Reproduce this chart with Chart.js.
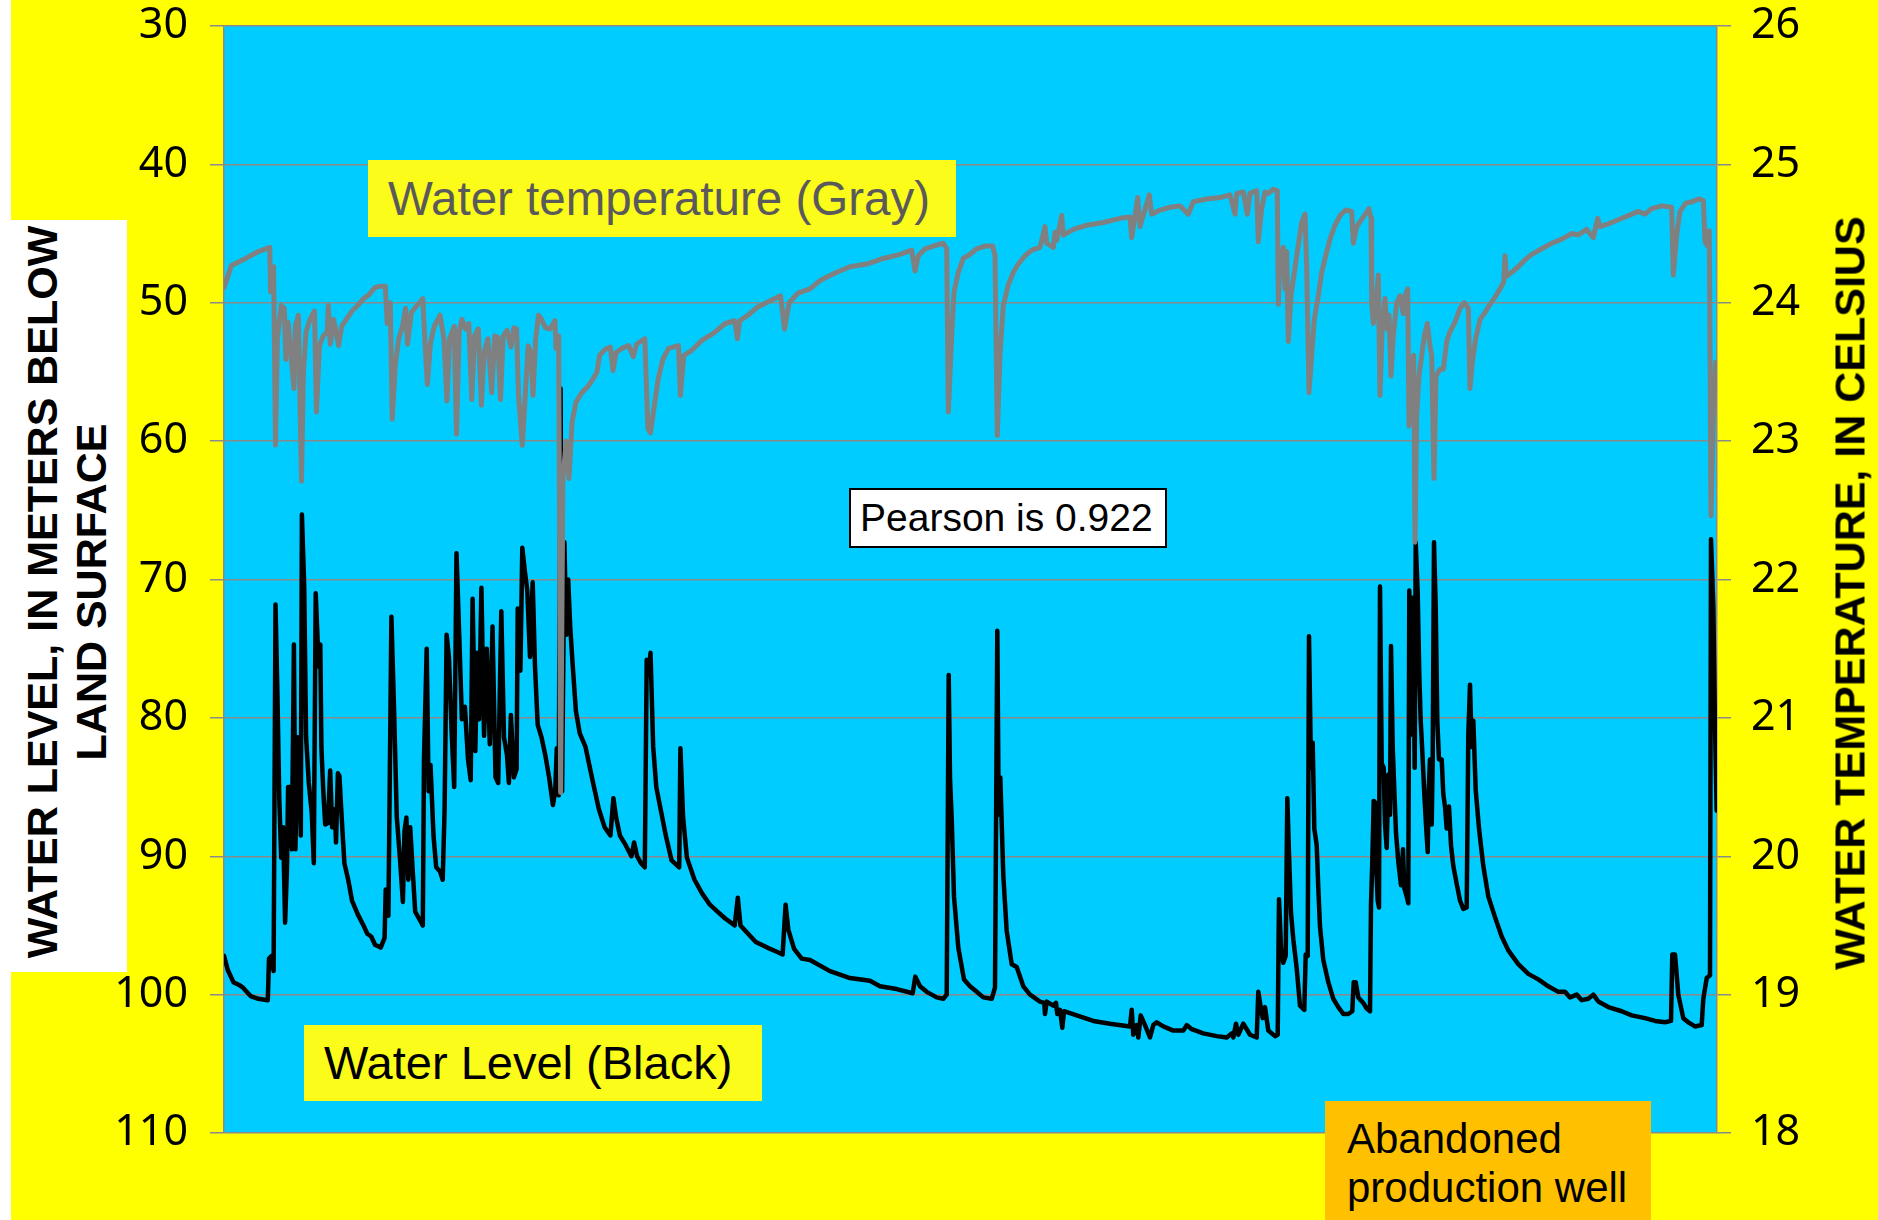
<!DOCTYPE html>
<html>
<head>
<meta charset="utf-8">
<script src="https://cdn.jsdelivr.net/npm/chart.js@4.4.1/dist/chart.umd.min.js"></script>
<style>
  html, body { margin: 0; padding: 0; background: #ffff00; }
  #wrap { position: relative; width: 1878px; height: 1220px; overflow: hidden; background: #ffff00; }
  #chart { position: absolute; left: 0; top: 0; z-index: 1; }
  .box { position: absolute; z-index: 2; box-sizing: border-box; white-space: nowrap; font-family: "Liberation Sans", Arial, sans-serif; }
  .vtitle { position: absolute; z-index: 2; white-space: nowrap; text-align: center; font-family: "Liberation Sans", Arial, sans-serif;
            font-weight: bold; font-size: 43px; line-height: 49px; color: #000; transform: translate(-50%, -50%) rotate(-90deg); }
</style>
</head>
<body>
<div id="wrap">
  <div class="box" style="left:0;top:0;width:11px;height:1220px;background:#fff;"></div>
  <div class="box" style="left:11px;top:220px;width:116px;height:752px;background:#fff;"></div>
  <div class="vtitle" style="left:67px;top:592px;">WATER LEVEL, IN METERS BELOW<br>LAND SURFACE</div>
  <div class="vtitle" style="left:1850px;top:593px;">WATER TEMPERATURE, IN CELSIUS</div>

  <canvas id="chart" width="1878" height="1220"></canvas>

  <div class="box" style="left:368px;top:160px;width:588px;height:77px;background:#fcfc1a;color:#5a5a5a;font-size:47.5px;line-height:77px;padding-left:20px;">Water temperature (Gray)</div>
  <div class="box" style="left:849px;top:488px;width:318px;height:60px;background:#fff;border:2px solid #000;color:#000;font-size:39px;line-height:56px;padding-left:9px;">Pearson is 0.922</div>
  <div class="box" style="left:304px;top:1025px;width:458px;height:76px;background:#fcfc1a;color:#000;font-size:47px;line-height:76px;padding-left:20px;">Water Level (Black)</div>
  <div class="box" style="left:1325px;top:1101px;width:326px;height:130px;background:#ffc000;color:#000;font-size:42px;line-height:49px;padding:13px 0 0 22px;">Abandoned<br>production well</div>
</div>

<script>
// axis ranges / ticks
const levelTicks = { min: 30, max: 110, step: 10 };   // meters below land surface (reversed)
const tempTicks = { min: 18, max: 26, step: 1 };      // degrees C
const dayRange = [0, 1493];

// [day, temperature C]
const tempReadings = [
  [0,24.11],[7.5,24.27],[19,24.31],[34.3,24.37],[45.8,24.40],[46.5,24.08],[49.6,24.26],[51.5,22.97],[53.4,23.74],[57.2,23.98],
  [60.3,23.96],[61.8,23.59],[64.1,23.86],[66.8,23.64],[69.9,23.38],[71.4,23.83],[74.4,23.91],[77.5,22.71],[79.4,23.50],[82.1,23.79],
  [85.9,23.88],[90.5,23.94],[92.4,23.21],[95.5,23.69],[99.3,23.76],[103.2,23.79],[104.3,23.98],[106.2,23.70],[109.7,23.88],[114.6,23.69],
  [117.7,23.83],[122.3,23.88],[128,23.94],[133.8,23.98],[139.5,24.03],[145.3,24.06],[151,24.11],[156.7,24.12],[161.3,24.12],[163.2,23.85],
  [166.3,24.00],[168.2,23.16],[171.3,23.55],[174.7,23.74],[178.5,23.83],[181.6,23.96],[183.5,23.70],[187.4,23.93],[193.1,23.98],[198.8,24.03],
  [201.1,23.69],[203.4,23.41],[206.5,23.71],[210.3,23.83],[216.1,23.91],[219.9,23.74],[222.9,23.29],[225.6,23.74],[230.2,23.83],[232.5,23.05],
  [235.2,23.79],[237.9,23.88],[241.7,23.81],[244.8,23.85],[247.8,23.30],[250.5,23.76],[254.3,23.81],[257.4,23.26],[260.1,23.64],[263.9,23.74],
  [267.7,23.35],[270.8,23.76],[273.8,23.75],[276.5,23.30],[279.2,23.76],[283,23.80],[286.9,23.68],[289.9,23.82],[292.6,23.81],[294.5,23.33],
  [298.3,22.97],[301,23.30],[304.1,23.69],[306.8,23.64],[309,23.33],[311.7,23.74],[314.4,23.91],[317.5,23.88],[321.3,23.82],[325.9,23.81],
  [330.9,23.87],[332,23.67],[334.7,23.76],[336.6,20.46],[338.9,22.73],[342.3,23.00],[345,22.73],[348.1,23.14],[351.9,23.28],[357.7,23.35],
  [363.4,23.39],[369.1,23.45],[373,23.50],[375.6,23.62],[380.6,23.66],[386.3,23.68],[389,23.51],[392.1,23.64],[397.8,23.67],[404.7,23.69],
  [409.3,23.61],[412.4,23.70],[420.8,23.74],[423.9,23.09],[426.5,23.06],[430.4,23.26],[434.2,23.45],[438.8,23.59],[444.5,23.67],[454.5,23.69],
  [456.4,23.33],[459.8,23.62],[466.7,23.65],[478.2,23.73],[489.7,23.78],[501.2,23.85],[510.7,23.87],[513.4,23.74],[515.7,23.87],[524.1,23.91],
  [533.7,23.97],[545.2,24.01],[556.6,24.05],[560.5,23.81],[565.1,24.00],[573.9,24.07],
  [586,24.10],[596,24.16],[612.7,24.22],[626,24.26],[642.7,24.28],[659.3,24.32],[676,24.35],[687.7,24.38],[691,24.23],[694.3,24.34],
  [701,24.39],[709.3,24.41],[719.3,24.43],[722.7,24.39],[724.3,23.21],[727.7,23.76],[730,24.08],[734.3,24.22],[739.3,24.32],[746,24.35],
  [752.7,24.39],[761,24.41],[768.7,24.41],[771,24.34],[773.3,23.04],[776,23.62],[779.3,23.98],[784.3,24.13],[789.3,24.22],[794.3,24.28],
  [801,24.34],[807.7,24.38],[816,24.40],[821,24.55],[822.7,24.43],[829.3,24.40],[831,24.51],[832.7,24.45],[837.7,24.63],[839.3,24.49],
  [849.3,24.53],[862.7,24.56],[879.3,24.58],[896,24.61],[906,24.62],[907.7,24.47],[911,24.63],[913.7,24.76],[916,24.55],[919.3,24.63],
  [925.3,24.78],[927.7,24.64],[936,24.67],[946,24.69],[956,24.70],[964.3,24.64],[969.3,24.73],[982.7,24.75],[996,24.76],[1006,24.78],
  [1011,24.64],[1012.7,24.79],[1019.3,24.80],[1023.3,24.64],[1026,24.79],[1032.7,24.81],[1034.3,24.44],[1037.7,24.68],[1041,24.80],
  [1044.3,24.79],[1049.3,24.82],[1053.3,24.81],[1054.3,23.99],[1056,24.32],[1059.3,24.40],[1061,24.10],[1062.7,24.37],[1064.3,23.72],[1067,24.05],
  [1070.3,24.22],[1073.7,24.39],[1077.7,24.58],[1081,24.64],[1082.7,24.25],[1085,23.35],[1087.7,23.62],[1090.3,23.88],[1094.3,24.05],[1097.7,24.22],
  [1101.7,24.34],[1106,24.46],[1111,24.56],[1116,24.63],[1121.7,24.67],[1127.7,24.66],[1129.3,24.43],[1132.7,24.55],[1138.3,24.61],[1145,24.68],
  [1147,24.61],[1147.7,24.00],[1149.3,23.85],[1151.7,23.98],[1154.3,24.20],[1156,23.33],[1158.3,23.84],[1161,24.03],[1163,23.81],[1165,23.91],
  [1167,23.47],[1169.3,23.76],[1172.7,24.00],[1176,24.05],[1179.3,23.92],[1181,24.05],[1183.7,24.10],[1185,23.11],[1187.7,23.57],[1189.7,23.62],
  [1191,22.27],[1192.7,23.19],[1195,23.47],[1197.7,23.62],[1200.3,23.76],[1203.3,23.85],[1206,23.69],[1207.7,23.62],[1210,22.73],[1212,23.47],
  [1216,23.52],[1219.3,23.52],[1222.7,23.72],[1226,23.79],[1231,23.86],[1236,23.96],[1240.3,24.00],[1244.3,23.96],[1246,23.38],[1248.3,23.57],
  [1251.7,23.74],[1256,23.88],[1261,23.93],[1266,23.99],[1271,24.04],[1276,24.10],[1279.7,24.15],[1281,24.34],[1282.3,24.19],[1287.7,24.22],
  [1294.3,24.26],[1301,24.31],[1307.7,24.35],[1317.7,24.39],[1327.7,24.43],[1337.7,24.46],[1347.7,24.50],[1354.3,24.49],[1362.7,24.53],[1369.3,24.47],
  [1373.7,24.61],[1376,24.55],[1384.3,24.57],[1394.3,24.60],[1404.3,24.63],[1414.3,24.66],[1421,24.64],[1427.7,24.68],[1437.7,24.70],[1447.7,24.69],
  [1449.3,24.20],[1452.7,24.49],[1456,24.66],[1461.7,24.72],[1468.3,24.73],[1474.3,24.75],[1479.3,24.74],[1481,24.44],[1483.7,24.41],[1485.3,24.52],
  [1487,22.46],[1489.3,23.19],[1491.7,23.57]
];

// [day, water level m below land surface]
const levelReadings = [
  [0,97.2],[3.7,98.2],[9.4,99.1],[15.1,99.3],[19,99.5],[26.6,100.1],[34.3,100.3],[43.8,100.4],[45,97.4],[47.7,97.2],
  [49.6,98.3],[51.5,71.8],[53.4,78.2],[55.3,85.9],[57.2,90.1],[59.1,87.9],[61.1,94.8],[63,90.8],[64.1,85.0],[66,85.0],
  [67.9,89.5],[69.9,74.7],[71.4,89.5],[73.7,81.4],[75.6,83.4],[76.8,88.5],[77.9,65.3],[80.2,70.5],[82.1,81.4],[84.8,84.7],
  [87.8,86.9],[89.8,90.5],[91.7,71.0],[94.7,76.3],[96.3,74.7],[97.4,82.1],[99.3,85.3],[101.2,87.7],[103.9,87.6],[106.2,83.8],
  [108.1,87.9],[110.8,86.6],[112,89.0],[113.9,84.0],[115.4,84.2],[117.7,87.2],[120.4,90.5],[124.2,91.7],[128,93.2],[133.8,94.2],
  [139.5,95.0],[143.3,95.6],[147.2,95.8],[151,96.4],[156.7,96.6],[160.6,95.9],[161.7,92.4],[164.4,94.3],[167.4,72.7],[170.1,79.5],
  [172.8,87.2],[175.9,90.1],[178.9,93.3],[180.5,88.2],[182.4,87.2],[184.3,91.7],[186.2,87.9],[188.5,90.8],[191.2,94.0],[195,94.5],
  [198.8,95.0],[200,82.9],[202.7,75.0],[204.6,85.3],[206.5,83.4],[209.5,88.5],[212.2,90.8],[216.1,91.1],[218.7,91.7],[220.6,86.6],
  [222.6,74.0],[224.9,75.6],[227.5,80.8],[230.2,85.0],[232.5,68.1],[235.2,74.0],[237.9,80.1],[240.9,79.2],[244,83.0],[246.7,84.5],
  [248.6,71.4],[251.3,82.4],[253.2,75.3],[255.1,80.1],[257.4,70.6],[260.1,81.3],[262.7,75.0],[265.8,81.9],[268.5,73.4],[271.5,84.3],
  [274.2,84.7],[277.3,72.3],[280,81.4],[283,82.7],[284.9,84.7],[286.9,79.8],[289.9,84.3],[292.6,83.7],[293.7,72.1],[296.4,76.6],
  [298.3,67.7],[301,69.5],[303.3,70.8],[306,75.6],[308.7,70.2],[311,76.3],[313.7,80.5],[317.5,81.4],[321.3,82.7],[325.1,84.3],
  [328.9,86.3],[331.2,85.3],[332.8,82.2],[334.7,85.6],[336.6,56.2],[338.1,85.3],[340.4,67.3],[342.3,74.0],[344.2,70.0],[346.2,73.4],
  [348.8,76.3],[351.9,79.5],[355.7,81.1],[361.5,82.1],[365.3,83.4],[369.1,84.7],[374.9,86.6],[380.6,87.9],[386.4,88.5],[389.4,85.8],
  [392.1,87.2],[395.9,88.5],[401.7,89.2],[407.4,90.0],[410.1,89.0],[413.1,90.0],[417,90.5],[420.8,90.8],[422.7,75.8],[424.6,76.9],
  [426.5,75.3],[429.2,82.1],[432.3,85.0],[438,87.1],[441.8,88.5],[447.6,90.3],[455.2,90.8],[456.4,82.2],[459.1,87.2],[462.9,90.1],
  [470.5,91.7],[478.2,92.7],[485.9,93.5],[493.5,94.0],[501.2,94.5],[510.7,95.0],[513.8,93.0],[516.5,95.0],[524.1,95.6],[531.8,96.2],
  [543.3,96.6],[552.8,96.9],[558.6,97.1],[561.6,93.5],[564.3,95.3],[570.1,96.7],[577.7,97.4],
  [586,97.5],[606,98.3],[626,98.8],[646,99.0],[656,99.4],[672.7,99.6],[688.7,99.9],[691.3,98.7],[696,99.4],[702.7,99.8],
  [712.7,100.2],[719.3,100.3],[722.7,100.0],[724.7,76.9],[726,84.3],[727.7,87.3],[730,92.9],[734.3,96.6],[740,98.9],[746,99.4],
  [752.7,99.8],[759.3,100.2],[767.7,100.3],[771,99.5],[773.3,73.7],[774.7,87.0],[776.3,84.3],[779.3,91.4],[782.7,95.4],[787.7,97.8],
  [792.7,98.0],[799.3,99.4],[806,100.0],[816,100.5],[820.3,100.6],[821,101.4],[822.7,100.5],[829.3,100.8],[832,100.6],[833.3,101.4],
  [836,101.1],[838.3,102.4],[840,101.2],[852.7,101.5],[869.3,101.9],[886,102.1],[906,102.3],[907.7,101.1],[909.3,102.9],[912.7,102.2],
  [914.3,103.1],[916.7,101.5],[921,102.2],[926,103.1],[929.3,102.2],[932.7,102.0],[939.3,102.3],[949.3,102.6],[959.3,102.6],[962.7,102.2],
  [967.7,102.5],[979.3,102.8],[992.7,103.0],[1002.7,103.1],[1007.7,102.8],[1009.3,103.1],[1012,102.1],[1014.3,102.9],[1019.3,102.1],[1022.7,102.5],
  [1026,102.9],[1032.7,103.1],[1034.3,99.8],[1036.7,100.9],[1038.7,101.7],[1041,100.9],
  [1044.3,102.6],[1051,103.0],[1053.7,102.9],[1055,93.1],[1057,96.6],[1059.3,97.7],[1061.7,97.2],[1063.3,85.8],[1065,89.8],[1067,94.1],
  [1069.3,96.0],[1072.7,98.1],[1076,100.8],[1080.3,101.1],[1081.7,97.1],[1083.7,97.2],[1085,74.1],[1087,83.6],[1088.7,81.8],[1090.3,88.0],
  [1092.7,89.2],[1094.3,92.3],[1096,95.1],[1099.3,97.5],[1104.3,99.1],[1109.3,100.3],[1114.3,100.9],[1119.3,101.4],[1124.3,101.4],[1128.3,101.2],
  [1129.7,99.1],[1131.7,99.1],[1134.3,100.2],[1139.3,100.6],[1142.7,101.0],[1146,101.2],[1147,93.5],[1148.3,90.4],[1149.7,86.0],[1151,86.1],
  [1152,90.4],[1153.7,93.2],[1155,93.7],[1156,70.5],[1157.7,83.3],[1159.7,83.6],[1161,87.7],[1162.7,89.4],[1164.3,84.1],[1166,87.0],
  [1167,74.8],[1168.7,82.1],[1170.3,85.2],[1172,88.3],[1174.3,90.4],[1177,92.1],[1179,89.5],[1180.3,92.3],[1182.7,92.9],[1184.3,93.4],
  [1185.3,70.8],[1187.7,81.2],[1189.3,71.3],[1190.7,83.6],[1191.7,67.3],[1193.7,71.0],[1195.3,76.9],[1196.7,80.2],[1198.3,82.4],[1200.3,85.5],
  [1202,87.7],[1203.7,89.7],[1204.7,85.2],[1206,83.0],[1207.7,87.7],[1208.7,83.0],[1210,67.3],[1211.7,71.9],[1213.3,80.2],[1215,83.0],
  [1217.7,83.0],[1219.3,85.5],[1221,86.4],[1222.7,88.0],[1225,86.4],[1227,89.2],[1229.3,90.7],[1232.7,92.0],[1236,93.2],[1239.3,93.8],
  [1242.7,93.7],[1244.3,81.2],[1246,77.6],[1247.7,82.1],[1249.3,80.2],[1251.7,85.2],[1255,88.0],[1259.3,90.7],[1264.3,92.9],[1271,94.4],
  [1277.7,95.8],[1284.3,96.8],[1294.3,97.8],[1304.3,98.5],[1314.3,98.9],[1324.3,99.4],[1334.3,99.8],[1341,99.8],[1346,100.2],[1352.7,100.0],
  [1357.7,100.4],[1364.3,100.3],[1369.3,100.0],[1374.3,100.5],[1384.3,100.9],[1397.7,101.2],[1407.7,101.5],[1421,101.7],[1431,101.9],[1441,102.0],
  [1447,101.9],[1448.3,97.1],[1451,97.1],[1454.3,100.0],[1459.3,101.7],[1464.3,102.0],[1471,102.3],[1477.7,102.2],[1479.3,100.3],[1482.7,98.8],
  [1486,98.6],[1487,67.1],[1489.3,71.9],[1491,80.6],[1492.7,86.7]
];

const toPoints = rows => rows.map(([x, y]) => ({ x, y }));

// fill the plotting area with the cyan background
const plotBackground = {
  id: 'plotBackground',
  beforeDraw(chart) {
    const { ctx, chartArea } = chart;
    ctx.save();
    ctx.fillStyle = '#00ccff';
    ctx.fillRect(chartArea.left, chartArea.top, chartArea.width, chartArea.height);
    ctx.restore();
  }
};

const gridGray = '#8a8a8a';
const tickFont = { family: '"Noto Sans", "Liberation Sans", sans-serif', size: 43, lineHeight: 1 };

// fixed axis widths; drop the label overflow padding so layout.padding decides the plot box
function fixAxis(width) {
  return scale => {
    scale.width = width;
    scale.paddingTop = 0;
    scale.paddingBottom = 0;
  };
}

new Chart(document.getElementById('chart'), {
  type: 'line',
  data: {
    datasets: [
      {
        label: 'Water temperature',
        data: toPoints(tempReadings),
        yAxisID: 'temp',
        borderColor: '#808080',
        borderWidth: 5,
        order: 0
      },
      {
        label: 'Water level',
        data: toPoints(levelReadings),
        yAxisID: 'level',
        borderColor: '#000000',
        borderWidth: 4.5,
        order: 1
      }
    ]
  },
  options: {
    responsive: false,
    animation: false,
    devicePixelRatio: 1,
    layout: { padding: { top: 26, bottom: 87, left: 0, right: 0 } },
    elements: {
      point: { radius: 0, hoverRadius: 0 },
      line: { tension: 0, borderJoinStyle: 'round', borderCapStyle: 'round', fill: false }
    },
    plugins: { legend: { display: false }, tooltip: { enabled: false } },
    scales: {
      x: { type: 'linear', min: dayRange[0], max: dayRange[1], display: false },
      level: {
        type: 'linear', position: 'left', reverse: true,
        min: levelTicks.min, max: levelTicks.max,
        ticks: { stepSize: levelTicks.step, padding: 22, color: '#000', font: tickFont },
        grid: { color: gridGray, lineWidth: 1.5, tickLength: 14 },
        border: { color: gridGray, width: 1.5 },
        afterFit: fixAxis(224)
      },
      temp: {
        type: 'linear', position: 'right',
        min: tempTicks.min, max: tempTicks.max,
        ticks: { stepSize: tempTicks.step, padding: 20, color: '#000', font: tickFont },
        grid: { drawOnChartArea: false, color: gridGray, lineWidth: 1.5, tickLength: 14 },
        border: { color: gridGray, width: 1.5 },
        afterFit: fixAxis(161)
      }
    }
  },
  plugins: [plotBackground]
});
</script>
</body>
</html>
